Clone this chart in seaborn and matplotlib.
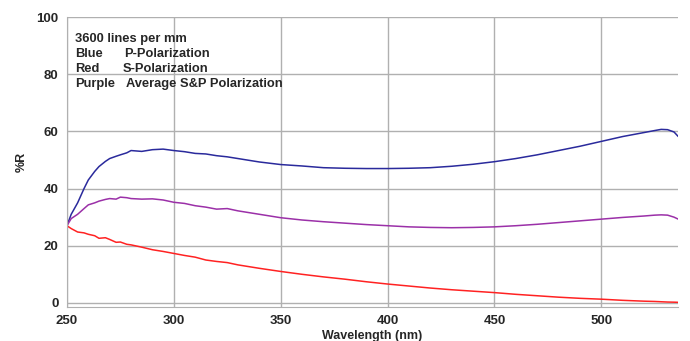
import seaborn as sns
import pandas as pd
import matplotlib.pyplot as plt

# wavelength grid (nm) and %R
wavelength = [250, 252, 255, 258, 260, 263, 265, 268, 270, 273, 275, 278, 280, 285, 290, 295,
              300, 305, 310, 315, 320, 325, 330, 340, 350, 360, 370, 380, 390, 400, 410, 420,
              430, 440, 450, 460, 470, 480, 490, 500, 510, 520, 525, 528, 531, 534, 536]
p_pol = [27, 31, 35, 40, 43, 46, 47.7, 49.5, 50.5, 51.3, 51.8, 52.5, 53.3, 53.0, 53.6, 53.8,
         53.3, 52.9, 52.3, 52.1, 51.5, 51.1, 50.5, 49.3, 48.4, 47.9, 47.3, 47.1, 47.0, 47.0, 47.1, 47.3,
         47.8, 48.5, 49.4, 50.5, 51.8, 53.3, 54.8, 56.5, 58.2, 59.6, 60.3, 60.7, 60.6, 59.8, 58.2]
s_pol = [27, 26, 24.8, 24.5, 24, 23.5, 22.6, 22.8, 22.2, 21.2, 21.3, 20.5, 20.3, 19.5, 18.6, 18.0,
         17.3, 16.6, 16.0, 15.0, 14.5, 14.1, 13.3, 12.1, 11.0, 10.0, 9.1, 8.3, 7.4, 6.6, 5.9, 5.2,
         4.6, 4.1, 3.6, 3.0, 2.5, 2.0, 1.6, 1.3, 0.9, 0.6, 0.5, 0.4, 0.3, 0.25, 0.2]
avg_pol = [27, 29.5, 31, 33, 34.3, 35, 35.6, 36.2, 36.5, 36.3, 37, 36.8, 36.5, 36.3, 36.4, 36.0,
           35.2, 34.8, 34.0, 33.5, 32.8, 33.0, 32.2, 31.0, 29.8, 29.0, 28.4, 27.9, 27.4, 27.0, 26.6, 26.4,
           26.3, 26.4, 26.6, 27.0, 27.5, 28.1, 28.7, 29.3, 29.9, 30.4, 30.7, 30.8, 30.7, 30.0, 29.3]

df = pd.DataFrame({"wl": wavelength, "P": p_pol, "S": s_pol, "Avg": avg_pol})

sns.set_style("white")
plt.rcParams['font.family'] = ['Liberation Sans', 'DejaVu Sans']

fig = plt.figure(figsize=(6.9, 3.41), dpi=100)
ax = fig.add_axes([0.097, 0.10, 0.886, 0.85])

sns.lineplot(data=df, x="wl", y="P", color="#2a2a9c", lw=1.1, ax=ax)
sns.lineplot(data=df, x="wl", y="Avg", color="#9b30a8", lw=1.1, ax=ax)
sns.lineplot(data=df, x="wl", y="S", color="#ff2222", lw=1.1, ax=ax)

ax.set_xlim(250, 536)
ax.set_ylim(-1.4, 100)
ax.set_xticks([250, 300, 350, 400, 450, 500])
ax.set_yticks([0, 20, 40, 60, 80, 100])
ax.grid(True, color="#b0b0b0", lw=1)
for s in ["top", "right"]:
    ax.spines[s].set_visible(False)
for s in ["left", "bottom"]:
    ax.spines[s].set_color("#b0b0b0")
ax.tick_params(axis="both", length=4, color="#b0b0b0", labelsize=9.5, pad=2)
for lbl in ax.get_xticklabels() + ax.get_yticklabels():
    lbl.set_fontweight("bold")

ax.set_xlabel("Wavelength (nm)", fontsize=9, fontweight="bold", labelpad=2)
ax.set_ylabel("%R", fontsize=9, fontweight="bold", labelpad=6)

names = ["3600 lines per mm", "Blue", "Red", "Purple"]
descr = ["", "P-Polarization", "S-Polarization", "Average S&P Polarization"]
descr_x = [276.7, 276.7, 276.3, 277.7]
for i in range(len(names)):
    y = 92.3 - i * 5.24
    ax.text(253.6, y, names[i], fontsize=9.3, fontweight="bold", va="center")
    if descr[i]:
        ax.text(descr_x[i], y, descr[i], fontsize=9.3, fontweight="bold", va="center")

fig.savefig("out.png", dpi=100)
